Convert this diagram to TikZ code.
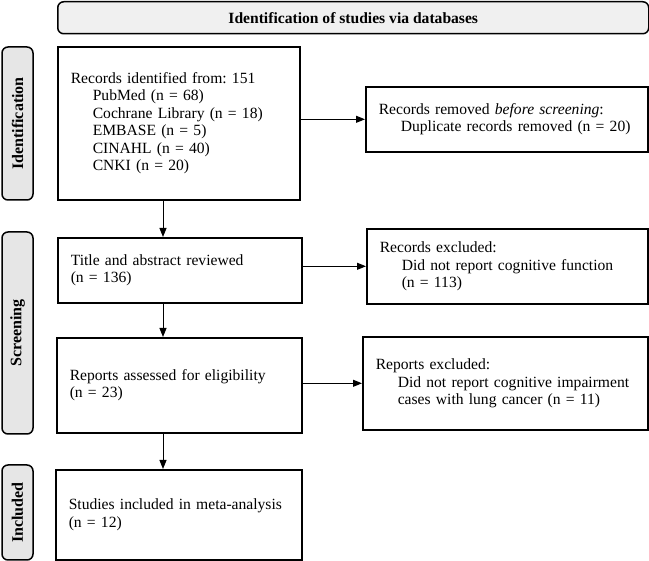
\documentclass[tikz,border=0pt]{standalone}
\usepackage{fontspec}
\setmainfont{Liberation Serif}
\usetikzlibrary{arrows.meta}
\definecolor{headgray}{HTML}{F0F0F0}
\definecolor{phasegray}{HTML}{E6E6E6}
\newcommand{\ind}{\hspace*{22pt}}
\frenchspacing

\begin{document}
\begin{tikzpicture}[>={Triangle[length=9pt,width=7pt]},x=1pt,y=-1pt,line width=1pt]
  \tikzstyle{box}=[draw,line width=1.6pt,anchor=north west,align=left,inner xsep=13pt,
                   inner ysep=0pt,font=\fontsize{15.6}{17.5}\selectfont]
  \tikzstyle{phase}=[draw,line width=1.5pt,fill=phasegray,rounded corners=6pt,rotate=90,
                     minimum height=31pt,inner sep=0pt,font=\fontsize{16}{18}\selectfont\bfseries]
  \useasboundingbox (0,0) rectangle (649,561);

  \node[draw,line width=1.5pt,fill=headgray,rounded corners=6pt,anchor=north west,
        minimum width=591pt,minimum height=32pt,inner sep=0pt,
        font=\fontsize{15.6}{17.5}\selectfont\bfseries] (head) at (57,1)
        {Identification of studies via databases};

  \node[phase,minimum width=153pt] (ident)  at (17.5,123.5) {Identification};
  \node[phase,minimum width=202pt] (screen) at (17.5,333)   {Screening};
  \node[phase,minimum width=95pt]  (incl)   at (17.5,512.5) {Included};

  \node[box,text width=216pt,minimum height=153pt] (rec) at (57,46)
        {Records identified from: 151\\
         \ind PubMed (n = 68)\\
         \ind Cochrane Library (n = 18)\\
         \ind EMBASE (n = 5)\\
         \ind CINAHL (n = 40)\\
         \ind CNKI (n = 20)};
  \node[box,text width=256pt,minimum height=65pt] (removed) at (365,86)
        {Records removed \textit{before screening}:\\
         \ind Duplicate records removed (n = 20)};
  \node[box,text width=218pt,minimum height=65pt] (title) at (57,237)
        {Title and abstract reviewed\\
         (n = 136)};
  \node[box,text width=255pt,minimum height=75pt] (excl) at (366,228)
        {Records excluded:\\
         \ind Did not report cognitive function\\
         \ind (n = 113)};
  \node[box,text width=219pt,minimum height=95pt] (reports) at (56,337)
        {Reports assessed for eligibility\\
         (n = 23)};
  \node[box,text width=259pt,minimum height=93pt] (repexcl) at (362,336)
        {Reports excluded:\\
         \ind Did not report cognitive impairment\\
         \ind cases with lung cancer (n = 11)};
  \node[box,text width=220pt,minimum height=90pt] (studies) at (55,469)
        {Studies included in meta-analysis\\
         (n = 12)};

  \coordinate (down) at (163,0);

  \path[->] (rec.south -| down)     edge (title.north -| down)
            (title.south -| down)   edge (reports.north -| down)
            (reports.south -| down) edge (studies.north -| down)
            (removed.west -| rec.east)     edge (removed.west)
            (excl.west -| title.east)      edge (excl.west)
            (repexcl.west -| reports.east) edge (repexcl.west);
\end{tikzpicture}
\end{document}
